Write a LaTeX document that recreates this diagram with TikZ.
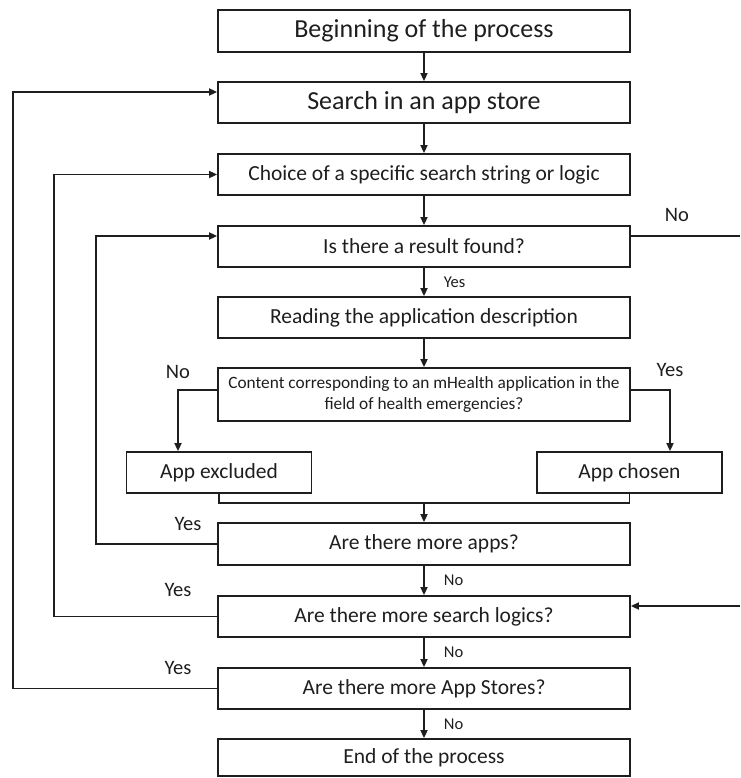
\documentclass[tikz,border=0pt]{standalone}
\usepackage{fontspec}
\setmainfont{Carlito}
\usetikzlibrary{arrows.meta}
\definecolor{ink}{HTML}{1E1E1E}
\begin{document}
\begin{tikzpicture}[x=1pt,y=-1pt,
  box/.style={draw=ink, line width=1.8pt, minimum width=412pt, minimum height=41pt,
    inner sep=0pt, text=ink, align=center, font=\fontsize{21.5}{24}\selectfont},
  bigbox/.style={box, font=\fontsize{26}{30}\selectfont},
  sidebox/.style={box, minimum width=185pt},
  flow/.style={draw=ink, line width=1.7pt, -{Triangle[length=8pt,width=7pt]}},
  link/.style={draw=ink, line width=1.7pt},
  lab/.style={text=ink, inner sep=0pt, font=\fontsize{20.5}{23}\selectfont},
  small/.style={text=ink, inner sep=0pt, font=\fontsize{16.5}{19}\selectfont}]
\useasboundingbox (0,0) rectangle (740,778);

% main column
\node[bigbox, minimum height=42pt] (begin) at (424,31) {Beginning of the process};
\node[bigbox] (search) at (424,102.5) {Search in an app store};
\node[box] (choice) at (424,174.5) {Choice of a specific search string or logic};
\node[box] (found) at (424,246.5) {Is there a result found?};
\node[box] (read) at (424,317.5) {Reading the application description};
\node[box, minimum height=53pt, font=\fontsize{17.3}{21}\selectfont] (content) at (424,394.5)
  {Content corresponding to an mHealth application in the\\field of health emergencies?};
\node[sidebox] (excl) at (219,472.5) {App excluded};
\node[sidebox] (chosen) at (629.5,472.5) {App chosen};
\node[box, minimum height=42pt] (apps) at (424,544) {Are there more apps?};
\node[box] (logics) at (424,616.5) {Are there more search logics?};
\node[box] (stores) at (424,688.5) {Are there more App Stores?};
\node[box, minimum height=37pt] (end) at (424,757.5) {End of the process};

% loose ends at the right margin
\coordinate (outR) at (740,236);
\coordinate (inR) at (740,606);
\coordinate (merge) at (424,503);

% straight flow
\draw[flow] (begin) -- (search);
\draw[flow] (search) -- (choice);
\draw[flow] (choice) -- (found);
\draw[flow] (found) -- (read) node[small, pos=0.5, right=19pt] {Yes};
\draw[flow] (read) -- (content);

% decision on content
\draw[flow] ([yshift=4.5pt]content.west) -| ([xshift=-41pt]excl.north);
\draw[flow] ([yshift=4.5pt]content.east) -| ([xshift=40.5pt]chosen.north);
\node[lab] (noC) at (178,372) {No};
\node[lab] (yesC) at (670,370) {Yes};

% both outcomes join
\draw[link] (excl.south) |- (merge) -| (chosen.south);
\draw[flow] (merge) -- (apps);

% loops back on Yes
\draw[flow] (apps.west) -- (96,544) |- ([yshift=10.5pt]found.west);
\draw[flow] (logics.west) -- (54,616.5) |- (choice.west);
\draw[flow] (stores.west) -- (13,688.5) |- ([yshift=10.5pt]search.west);
\node[lab] (yesA) at (188,524) {Yes};
\node[lab] (yesL) at (178,590) {Yes};
\node[lab] (yesS) at (178,668) {Yes};

% downward on No
\draw[flow] (apps) -- (logics) node[small, pos=0.5, right=19pt] {No};
\draw[flow] (logics) -- (stores) node[small, pos=0.5, right=19pt] {No};
\draw[flow] (stores) -- (end) node[small, pos=0.5, right=19pt] {No};

% no result: leave to the right, come back into the search-logic test
\draw[link] ([yshift=10.5pt]found.east) -- (outR);
\node[lab] (noR) at (677,215) {No};
\draw[flow] (inR) -- ([yshift=10.5pt]logics.east);
\end{tikzpicture}
\end{document}
